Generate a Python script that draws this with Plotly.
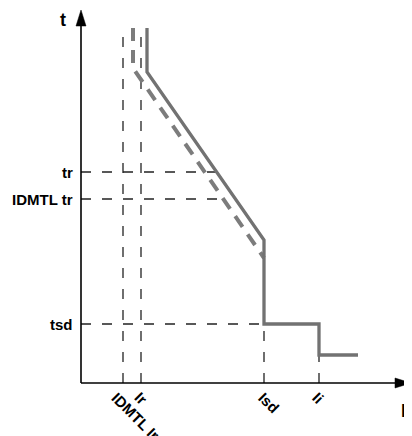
"""Schematic trip curve (t vs I) with IDMTL long-time curve, short delay and instantaneous step."""
import numpy as np
import plotly.graph_objects as go

# values in drawing units measured from the origin of the t/I axes
I_LABELS = ["IDMTL Ir", "Ir", "Isd", "Ii"]
I_VALUES = [42, 60, 183, 238]
T_LABELS = ["tr", "IDMTL tr", "tsd"]
T_VALUES = [211, 184, 59]

# solid trip curve: long time -> short delay -> instantaneous
CURVE_I = [66, 66, 183, 183, 238, 238, 277]
CURVE_T = [355, 311, 143, 59, 59, 28, 28]
# dashed IDMTL long-time curve
IDMTL_I = [52, 52, 183]
IDMTL_T = [355, 315, 125]

# the page body adds an 8px margin, so the figure is shrunk and the view shifted
X_RANGE = [-73, 331]
Y_RANGE = [-53, 375]
X_TIP, Y_TIP = 330, 373

FONT = "Liberation Sans, Arial, sans-serif"
GUIDE = dict(color="#222222", width=1.3, dash="10px,11px")
GREY = "#727272"


def solid_at(t):
    return float(np.interp(t, CURVE_T[2:0:-1], CURVE_I[2:0:-1]))


def idmtl_at(t):
    return float(np.interp(t, IDMTL_T[:0:-1], IDMTL_I[:0:-1]))


fig = go.Figure()

# vertical guides from the I axis
i_tops = [CURVE_T[0], CURVE_T[0], T_VALUES[2], CURVE_T[-1]]
for x, top in zip(I_VALUES, i_tops):
    fig.add_scatter(x=[x, x], y=[0, top], mode="lines", line=GUIDE)

# horizontal guides from the t axis
t_ends = [solid_at(T_VALUES[0]), idmtl_at(T_VALUES[1]), I_VALUES[2]]
for y, end in zip(T_VALUES, t_ends):
    fig.add_scatter(x=[0, end], y=[y, y], mode="lines", line=GUIDE)

fig.add_scatter(x=IDMTL_I, y=IDMTL_T, mode="lines",
                line=dict(color="#7c7c7c", width=4, dash="13px,9px"))
fig.add_scatter(x=CURVE_I, y=CURVE_T, mode="lines",
                line=dict(color=GREY, width=3.3))

# axes with arrow heads
axis = dict(color="black", width=1.6)
fig.add_scatter(x=[0, 0], y=[0, Y_TIP - 12], mode="lines", line=axis)
fig.add_scatter(x=[0, X_TIP - 12], y=[0, 0], mode="lines", line=axis)
hl, hw = 16, 5
fig.add_scatter(x=[0, -hw, hw, 0], y=[Y_TIP, Y_TIP - hl, Y_TIP - hl, Y_TIP],
                fill="toself", fillcolor="black", mode="lines", line=dict(color="black", width=0.5))
fig.add_scatter(x=[X_TIP, X_TIP - hl, X_TIP - hl, X_TIP], y=[0, hw, -hw, 0],
                fill="toself", fillcolor="black", mode="lines", line=dict(color="black", width=0.5))

lab = dict(family=FONT, size=15, color="black", weight="bold")
for name, y in zip(T_LABELS, T_VALUES):
    fig.add_annotation(x=0, y=y, text=name, showarrow=False, xanchor="right",
                       yanchor="middle", xshift=-6, font=lab)
shifts = [-17, -12, -12, -13]
for name, x, s in zip(I_LABELS, I_VALUES, shifts):
    fig.add_annotation(x=x, y=0, text=name, showarrow=False, textangle=45,
                       xanchor="left", yanchor="top", xshift=s, yshift=-3, font=lab)

big = dict(family=FONT, size=18, color="black", weight="bold")
fig.add_annotation(x=-18, y=Y_TIP - 10, text="t", showarrow=False, font=big,
                   xanchor="center", yanchor="middle")
fig.add_annotation(x=322, y=-28, text="I", showarrow=False, font=big,
                   xanchor="center", yanchor="middle")

fig.update_xaxes(range=X_RANGE, visible=False, fixedrange=True)
fig.update_yaxes(range=Y_RANGE, visible=False, fixedrange=True)
fig.update_layout(width=404, height=428, margin=dict(l=0, r=0, t=0, b=0),
                  plot_bgcolor="white", paper_bgcolor="white",
                  showlegend=False, hovermode=False)

fig.write_html("out.html")
